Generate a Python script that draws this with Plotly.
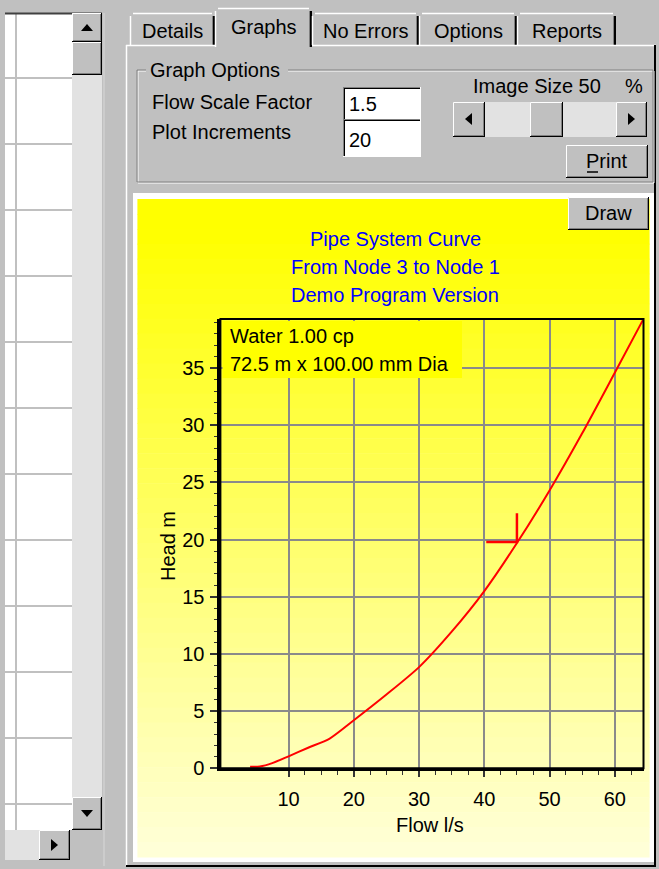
import plotly.graph_objects as go

# ---------------- data ----------------
flow = [4.1, 5.6, 7.5, 10.0, 13.0, 16.3, 20.0, 25.0, 30.0, 35.0, 40.0, 45.0, 50.0, 55.0, 60.0, 64.3]
head = [0.14, 0.16, 0.45, 1.05, 1.8, 2.6, 4.2, 6.45, 8.85, 11.95, 15.5, 19.7, 24.3, 29.3, 34.6, 39.2]
x_ticks = [10, 20, 30, 40, 50, 60]
y_ticks = [0, 5, 10, 15, 20, 25, 30, 35]
op_flow = 45.0
op_head = 19.8
title_lines = ["Pipe System Curve", "From Node 3 to Node 1", "Demo Program Version"]
info_lines = ["Water 1.00 cp", "72.5 m x 100.00 mm Dia"]
tab_labels = ["Details", "Graphs", "No Errors", "Options", "Reports"]
x_title = "Flow l/s"
y_title = "Head m"
flow_scale = "1.5"
plot_incr = "20"

# ---------------- helpers ----------------
W, H = 659, 869
FONT = "Arial, 'Liberation Sans', sans-serif"
GRAY = "#C0C0C0"
DARK = "#808080"
shapes = []
annots = []


def fx(x):
    return x / W


def fy(y):
    return 1 - y / H


def rect(x0, y0, x1, y1, fill=None, line=None, lw=1, layer="below"):
    shapes.append(dict(type="rect", xref="paper", yref="paper",
                       x0=fx(x0), x1=fx(x1), y0=fy(y1), y1=fy(y0),
                       fillcolor=fill or "rgba(0,0,0,0)",
                       line=dict(width=lw if line else 0, color=line or "rgba(0,0,0,0)"),
                       layer=layer))


def seg(x0, y0, x1, y1, color, lw=1, layer="below"):
    shapes.append(dict(type="line", xref="paper", yref="paper",
                       x0=fx(x0), x1=fx(x1), y0=fy(y0), y1=fy(y1),
                       line=dict(width=lw, color=color), layer=layer))


def tri(pts, color="black"):
    p = "M " + " L ".join(f"{fx(a)},{fy(b)}" for a, b in pts) + " Z"
    shapes.append(dict(type="path", xref="paper", yref="paper", path=p,
                       fillcolor=color, line=dict(width=0), layer="below"))


def bevel(x0, y0, x1, y1, fill=GRAY, sunken=False):
    rect(x0, y0, x1, y1, fill=fill)
    if not sunken:
        seg(x0 + 0.5, y0 + 0.5, x1 - 1, y0 + 0.5, "white")
        seg(x0 + 0.5, y0 + 0.5, x0 + 0.5, y1 - 1, "white")
        seg(x0, y1 - 0.5, x1, y1 - 0.5, "black")
        seg(x1 - 0.5, y0, x1 - 0.5, y1, "black")
        seg(x0 + 1, y1 - 1.5, x1 - 1, y1 - 1.5, DARK)
        seg(x1 - 1.5, y0 + 1, x1 - 1.5, y1 - 1, DARK)
    else:
        seg(x0, y0 + 0.5, x1, y0 + 0.5, DARK)
        seg(x0 + 0.5, y0, x0 + 0.5, y1, DARK)
        seg(x0 + 1, y0 + 1.5, x1 - 1, y0 + 1.5, "black")
        seg(x0 + 1.5, y0 + 1, x0 + 1.5, y1 - 1, "black")
        seg(x0, y1 - 0.5, x1, y1 - 0.5, "white")
        seg(x1 - 0.5, y0, x1 - 0.5, y1, "white")


def text(x, y, s, size=20, color="black", xanchor="left", angle=0):
    annots.append(dict(x=fx(x), y=fy(y), xref="paper", yref="paper", text=s,
                       showarrow=False, xanchor=xanchor, yanchor="middle",
                       textangle=angle, font=dict(family=FONT, size=size, color=color)))


# ---------------- left grid panel ----------------
rect(5, 13, 72, 830, fill="white")
for k in range(12):
    seg(5, 78 + 66 * k, 72, 78 + 66 * k, GRAY, 2)
seg(16, 13, 16, 830, GRAY, 2)
seg(5, 13.5, 102, 13.5, "#404040", 2)
rect(72, 42, 102, 797, fill="#E2E2E2")
bevel(72, 13, 102, 42)
tri([(81, 31), (93, 31), (87, 24)])
bevel(72, 42, 102, 75)
bevel(72, 797, 102, 830)
tri([(81, 810), (93, 810), (87, 817)])
rect(5, 830, 39, 860, fill="#E2E2E2")
bevel(39, 830, 70, 860)
tri([(51, 839), (51, 851), (58, 845)])
seg(104, 13, 104, 866, "#D8D8D8", 1)

# ---------------- tabs ----------------
tab_x = [(130, 215), (215, 312), (312, 419), (419, 517), (517, 616)]
for i, ((a, b), lab) in enumerate(zip(tab_x, tab_labels)):
    top = 8 if i == 1 else 13
    bot = 47 if i == 1 else 45
    rect(a, top, b, bot, fill=GRAY)
    seg(a + 0.5, top + 3, a + 0.5, bot, "white", 1.5)
    seg(a + 3, top + 0.5, b - 3, top + 0.5, "white", 1.5)
    seg(b - 1, top + 3, b - 1, bot, "black", 2)
    seg(b - 2.5, top + 3, b - 2.5, bot, DARK, 1)
    text((a + b) / 2, 27 if i == 1 else 31, lab, size=20, xanchor="center")

# tab page
rect(126, 47, 656, 866, fill=GRAY)
seg(126.5, 45, 126.5, 866, "white", 1.5)
seg(126, 45.5, 215, 45.5, "white", 1.5)
seg(312, 45.5, 656, 45.5, "white", 1.5)
seg(655, 45, 655, 866, "black", 2)
seg(126, 866, 656, 866, "black", 2)

# ---------------- graph options group ----------------
rect(138, 71, 654, 183, line="white", lw=1)
rect(137, 70, 653, 182, line=DARK, lw=1)
rect(146, 62, 288, 78, fill=GRAY)
text(148, 70, "Graph Options")
text(150, 102, "Flow Scale Factor")
text(150, 132, "Plot Increments")
bevel(343, 87, 421, 120, fill="white", sunken=True)
bevel(343, 119, 421, 157, fill="white", sunken=True)
text(347, 104, flow_scale)
text(347, 140, plot_incr)
text(471, 86, "Image Size 50")
text(645, 86, "%", xanchor="right")
rect(453, 102, 647, 137, fill="#E2E2E2")
bevel(453, 102, 485, 137)
tri([(472, 113), (472, 125), (465, 119)])
bevel(530, 102, 563, 137)
bevel(616, 102, 647, 137)
tri([(628, 113), (628, 125), (635, 119)])
bevel(566, 145, 648, 178)
text(607, 161, "Print", xanchor="center")
seg(587, 172, 598, 172, "black", 1.5)

# ---------------- yellow chart panel (gradient) ----------------
rect(133, 193, 654, 862, fill="white")
Y0, Y1 = 199, 857
n = 44
for i in range(n):
    a = Y0 + (Y1 - Y0) * i / n
    b = Y0 + (Y1 - Y0) * (i + 1) / n
    t = (i + 0.5) / n
    blue = int(min(215, max(0, (t - 0.05) * 230)))
    rect(137.4, a, 649.6, b + 0.6, fill=f"rgb(255,255,{blue})")
bevel(568, 197, 649, 230)
text(608, 213, "Draw", xanchor="center")

for i, s in enumerate(title_lines):
    text(395, 239 + 28 * i, s, size=20, color="#0000FF", xanchor="center")

# info box inside plot
rect(222.5, 321, 462, 378, fill="#FFFF00", layer="above")
for i, s in enumerate(info_lines):
    text(228, 336 + 28 * i, s, size=20)

text(430, 825, x_title, xanchor="center")
text(168, 546, y_title, xanchor="center", angle=-90)

# ---------------- chart ----------------
fig = go.Figure()
fig.add_trace(go.Scatter(x=flow, y=head, mode="lines",
                         line=dict(color="#FF0000", width=2, shape="spline", smoothing=0.7),
                         hoverinfo="skip"))
arm_x = 4.7
arm_y = 2.5
fig.add_trace(go.Scatter(x=[op_flow - arm_x, op_flow, op_flow],
                         y=[op_head, op_head, op_head + arm_y], mode="lines",
                         line=dict(color="#FF0000", width=2.5), hoverinfo="skip"))

# plot border (top/right thinner)
shapes.append(dict(type="rect", xref="x domain", yref="y domain", x0=0, x1=1, y0=0, y1=1,
                   line=dict(color="black", width=2), layer="above"))

xd = [220.4 / W, 643.5 / W]
yd = [1 - 768.3 / H, 1 - 319 / H]
x_minor = [v + d for v in x_ticks for d in (2.5, 5.0, 7.5) if v + d < 64.4]

fig.update_layout(
    template="none",
    width=W, height=H, autosize=False,
    margin=dict(l=0, r=0, t=0, b=0, pad=0, autoexpand=False),
    paper_bgcolor=GRAY, plot_bgcolor="rgba(0,0,0,0)",
    showlegend=False,
    shapes=shapes, annotations=annots,
    font=dict(family=FONT, size=20, color="black"),
    xaxis=dict(domain=xd, range=[-0.45, 64.4], tickvals=x_ticks, automargin=False,
               showgrid=True, gridcolor="#8a8a8a", gridwidth=1.5, zeroline=False,
               showline=True, linecolor="black", linewidth=3,
               ticks="outside", ticklen=6, tickwidth=1.5, tickcolor="#333333",
               ticklabelstandoff=5,
               tickfont=dict(family=FONT, size=20, color="black"),
               minor=dict(tickvals=x_minor, ticks="outside", ticklen=4,
                          tickwidth=1, tickcolor="#333333", showgrid=False),
               fixedrange=True),
    yaxis=dict(domain=yd, range=[0, 39.3], tickvals=y_ticks, automargin=False,
               showgrid=True, gridcolor="#8a8a8a", gridwidth=1.5, zeroline=False,
               showline=True, linecolor="black", linewidth=3,
               ticks="outside", ticklen=7, tickwidth=1.5, tickcolor="#333333",
               ticklabelstandoff=2,
               tickfont=dict(family=FONT, size=20, color="black"),
               minor=dict(tick0=0, dtick=1, ticks="outside", ticklen=3,
                          tickwidth=1, tickcolor="#333333", showgrid=False),
               fixedrange=True),
)

fig.write_html(
    "out.html",
    config={"displayModeBar": False},
    post_script="document.body.style.margin='0';document.body.style.padding='0';"
                "document.body.style.overflow='hidden';",
)
